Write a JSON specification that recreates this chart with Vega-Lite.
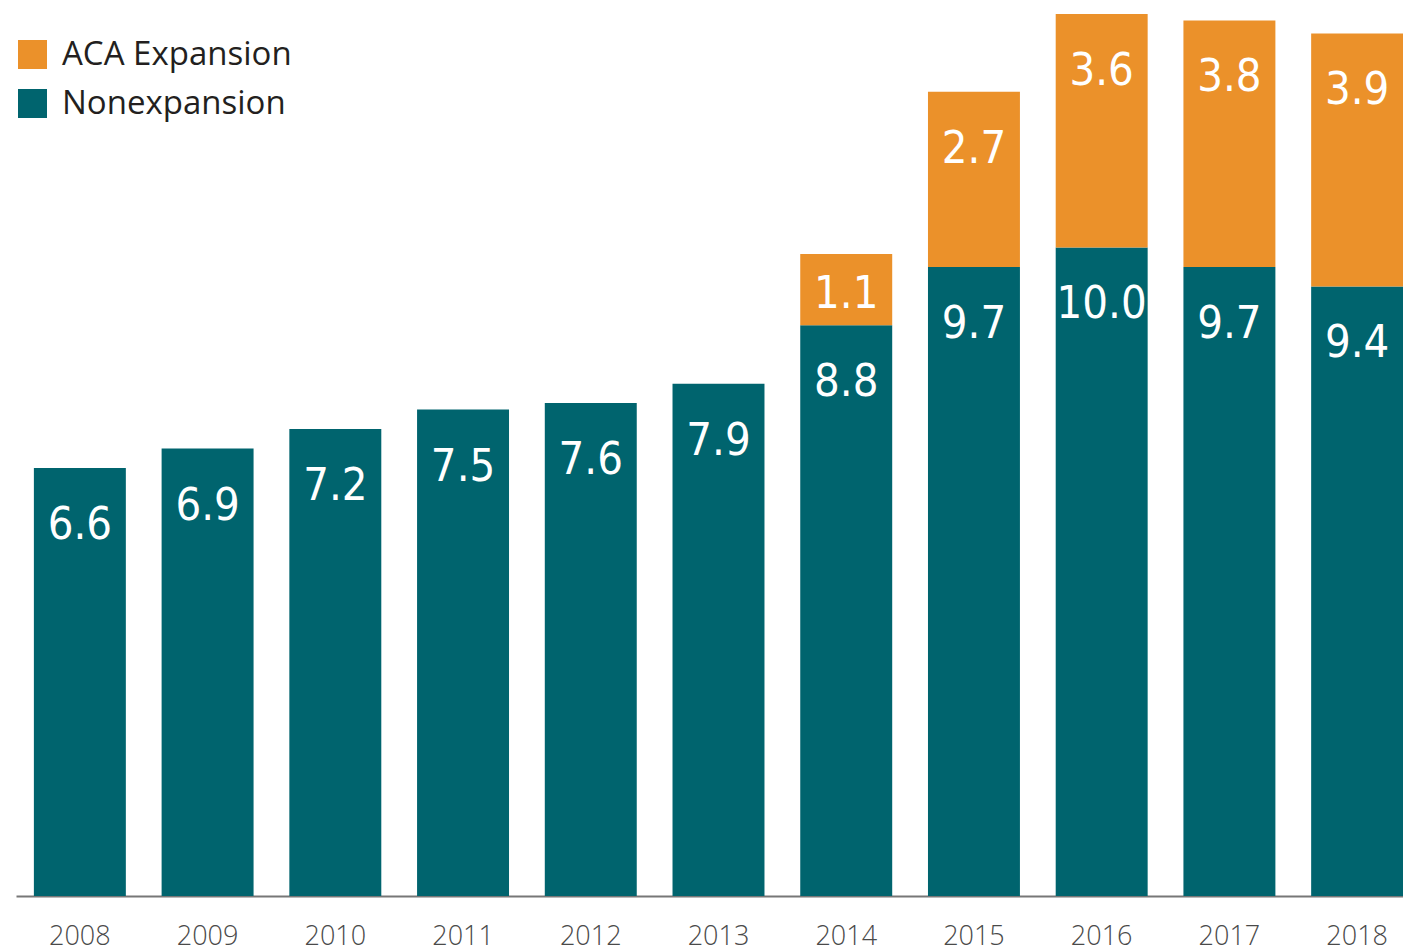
{
  "$schema": "https://vega.github.io/schema/vega-lite/v6.json",
  "autosize": {"type": "none"},
  "padding": {"left": 16, "top": 14, "right": 0, "bottom": 55},
  "width": 1405,
  "height": 882,
  "background": "white",
  "config": {"view": {"stroke": null}},
  "data": {
    "values": [
      {"year": "2008", "type": "Nonexpansion", "value": 6.6},
      {"year": "2009", "type": "Nonexpansion", "value": 6.9},
      {"year": "2010", "type": "Nonexpansion", "value": 7.2},
      {"year": "2011", "type": "Nonexpansion", "value": 7.5},
      {"year": "2012", "type": "Nonexpansion", "value": 7.6},
      {"year": "2013", "type": "Nonexpansion", "value": 7.9},
      {"year": "2014", "type": "Nonexpansion", "value": 8.8},
      {"year": "2015", "type": "Nonexpansion", "value": 9.7},
      {"year": "2016", "type": "Nonexpansion", "value": 10.0},
      {"year": "2017", "type": "Nonexpansion", "value": 9.7},
      {"year": "2018", "type": "Nonexpansion", "value": 9.4},
      {"year": "2014", "type": "ACA Expansion", "value": 1.1},
      {"year": "2015", "type": "ACA Expansion", "value": 2.7},
      {"year": "2016", "type": "ACA Expansion", "value": 3.6},
      {"year": "2017", "type": "ACA Expansion", "value": 3.8},
      {"year": "2018", "type": "ACA Expansion", "value": 3.9}
    ]
  },
  "transform": [
    {"stack": "value", "groupby": ["year"], "sort": [{"field": "type", "order": "descending"}], "as": ["v0", "v1"]}
  ],
  "encoding": {
    "x": {
      "field": "year", "type": "ordinal",
      "scale": {"paddingInner": 0.28, "paddingOuter": 0.14},
      "axis": {
        "title": null, "ticks": false, "labelAngle": 0,
        "domainColor": "#777777", "domainWidth": 2,
        "labelFont": "Open Sans", "labelFontSize": 27, "labelFontWeight": 300,
        "labelColor": "#4a4a4a", "labelPadding": 27, "labelBaseline": "top"
      }
    }
  },
  "layer": [
    {
      "mark": {"type": "bar"},
      "encoding": {
        "y": {"field": "v1", "type": "quantitative", "scale": {"domain": [0, 13.6], "nice": false, "zero": true}, "axis": null},
        "y2": {"field": "v0"},
        "color": {
          "field": "type", "type": "nominal",
          "scale": {"domain": ["ACA Expansion", "Nonexpansion"], "range": ["#EB912A", "#00646E"]},
          "legend": {
            "title": null, "orient": "none", "legendX": 0, "legendY": 24,
            "symbolType": "square", "symbolSize": 841, "symbolStrokeWidth": 0, "symbolOpacity": 1,
            "labelFont": "Open Sans", "labelFontSize": 33, "labelColor": "#231F20",
            "labelLimit": 400, "labelOffset": 13, "rowPadding": 15
          }
        }
      }
    },
    {
      "transform": [{"filter": "datum.value >= 2"}],
      "mark": {"type": "text", "font": "DejaVu Sans Condensed, Roboto, sans-serif", "fontSize": 45, "color": "white", "baseline": "alphabetic", "dy": 71},
      "encoding": {
        "y": {"field": "v1", "type": "quantitative"},
        "text": {"field": "value", "type": "quantitative", "format": ".1f"}
      }
    },
    {
      "transform": [{"filter": "datum.value < 2"}],
      "mark": {"type": "text", "font": "DejaVu Sans Condensed, Roboto, sans-serif", "fontSize": 45, "color": "white", "baseline": "alphabetic", "dy": -17},
      "encoding": {
        "y": {"field": "v0", "type": "quantitative"},
        "text": {"field": "value", "type": "quantitative", "format": ".1f"}
      }
    }
  ]
}
